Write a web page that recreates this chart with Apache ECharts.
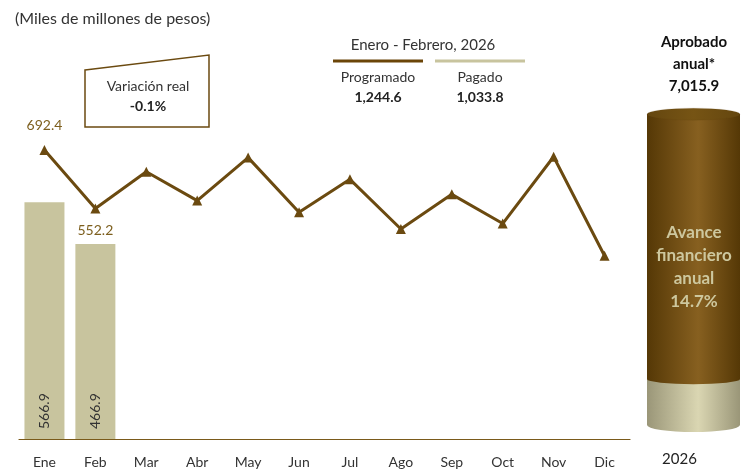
<!DOCTYPE html>
<html>
<head>
<meta charset="utf-8">
<script src="https://cdn.jsdelivr.net/npm/echarts@6/dist/echarts.min.js"></script>
<style>
  html, body { margin: 0; padding: 0; background: #fff; }
  #chart { width: 741px; height: 473px; }
</style>
</head>
<body>
<div id="chart"></div>
<script>
const meses = ["Ene", "Feb", "Mar", "Abr", "May", "Jun", "Jul", "Ago", "Sep", "Oct", "Nov", "Dic"];
const programado = [692.4, 552.2, 640, 571, 674, 543, 622, 503, 586, 516, 676, 439];
const pagado = [566.9, 466.9];
const aprobado = 7015.9;
const anio = "2026";
const variacionReal = "-0.1%";

const fmt = (v) => v.toLocaleString("en-US", { minimumFractionDigits: 1, maximumFractionDigits: 1 });
const totalProg = programado.slice(0, pagado.length).reduce((a, b) => a + b, 0);
const totalPag = pagado.reduce((a, b) => a + b, 0);
const avance = (totalPag / aprobado * 100).toFixed(1) + "%";

const font = "Lato";
const cafe = "#6b4a10";
const beige = "#c8c49e";

const cafeGrad = new echarts.graphic.LinearGradient(0, 0, 1, 0, [
  { offset: 0, color: "#553806" },
  { offset: 0.55, color: "#876020" },
  { offset: 1, color: "#553806" },
]);
const beigeGrad = new echarts.graphic.LinearGradient(0, 0, 1, 0, [
  { offset: 0, color: "#9a9678" },
  { offset: 0.55, color: "#dad6b2" },
  { offset: 1, color: "#9a9678" },
]);

const chart = echarts.init(document.getElementById("chart"));

const option = {
  animation: false,
  textStyle: { fontFamily: font },
  title: {
    text: "(Miles de millones de pesos)",
    left: 10,
    top: 6,
    textStyle: { fontSize: 16, fontWeight: "normal", color: "#333", fontFamily: font },
  },
  grid: [
    { left: 19, right: 111, top: 105, bottom: 34 },
    { left: 647, right: 1, top: 114, bottom: 48 },
  ],
  xAxis: [
    {
      type: "category",
      data: meses,
      axisTick: { show: false },
      axisLine: { lineStyle: { color: "#7a5a1a", width: 1.2 } },
      axisLabel: { color: "#333", fontSize: 14, margin: 16, fontFamily: font },
    },
    {
      type: "category",
      gridIndex: 1,
      data: [anio],
      axisTick: { show: false },
      axisLine: { show: false },
      axisLabel: { color: "#222", fontSize: 15, margin: 27, padding: [0, 28, 0, 0], fontFamily: font },
    },
  ],
  yAxis: [
    { type: "value", min: 0, max: 800, show: false },
    { type: "value", gridIndex: 1, min: 0, max: aprobado, show: false },
  ],
  series: [
    {
      name: "Pagado",
      type: "bar",
      data: pagado,
      barWidth: 40,
      itemStyle: { color: beige },
      label: {
        show: true,
        position: "insideBottom",
        rotate: 90,
        align: "left",
        verticalAlign: "middle",
        distance: 10,
        color: "#333",
        fontSize: 14,
        fontFamily: font,
        formatter: (p) => fmt(p.value),
      },
    },
    {
      name: "Programado",
      type: "line",
      data: programado.map((v, i) => {
        if (i === 0) return { value: v, label: { show: true, position: "top", distance: 12 } };
        if (i === 1) return { value: v, label: { show: true, position: "bottom", distance: 10 } };
        return v;
      }),
      symbol: "triangle",
      symbolSize: 10,
      lineStyle: { color: cafe, width: 3 },
      itemStyle: { color: cafe },
      label: {
        show: false,
        color: "#7d5f1e",
        fontSize: 14,
        fontFamily: font,
        formatter: (p) => fmt(p.value),
      },
      z: 3,
    },
    {
      type: "bar",
      xAxisIndex: 1,
      yAxisIndex: 1,
      stack: "cil",
      data: [totalPag],
      barWidth: 93,
      itemStyle: { color: beigeGrad },
    },
    {
      type: "bar",
      xAxisIndex: 1,
      yAxisIndex: 1,
      stack: "cil",
      data: [aprobado - totalPag],
      barWidth: 93,
      itemStyle: { color: cafeGrad },
    },
    {
      type: "pictorialBar",
      xAxisIndex: 1,
      yAxisIndex: 1,
      data: [1],
      symbol: "circle",
      symbolSize: [93, 14],
      symbolOffset: [0, "50%"],
      itemStyle: { color: beigeGrad },
      z: 1,
    },
    {
      type: "pictorialBar",
      xAxisIndex: 1,
      yAxisIndex: 1,
      data: [totalPag],
      symbol: "circle",
      symbolPosition: "end",
      symbolSize: [93, 10],
      symbolOffset: [0, "-50%"],
      itemStyle: { color: cafeGrad },
      z: 3,
    },
    {
      type: "pictorialBar",
      xAxisIndex: 1,
      yAxisIndex: 1,
      data: [aprobado],
      symbol: "circle",
      symbolPosition: "end",
      symbolSize: [93, 12],
      symbolOffset: [0, "-50%"],
      itemStyle: {
        color: new echarts.graphic.LinearGradient(0, 0, 1, 0, [
          { offset: 0, color: "#64460f" },
          { offset: 0.5, color: "#765414" },
          { offset: 1, color: "#64460f" },
        ]),
        borderColor: "#553a08",
        borderWidth: 1,
      },
      z: 4,
    },
  ],
  graphic: [
    {
      type: "polygon",
      shape: { points: [[85, 70], [209, 55], [209, 127], [85, 127]] },
      style: { fill: "#fff", stroke: cafe, lineWidth: 1.5 },
    },
    {
      type: "text",
      x: 148, y: 86,
      style: { text: "Variación real", fontSize: 14, fill: "#333", align: "center", verticalAlign: "middle", fontFamily: font },
    },
    {
      type: "text",
      x: 148, y: 106,
      style: { text: variacionReal, fontSize: 14, fontWeight: "bold", fill: "#222", align: "center", verticalAlign: "middle", fontFamily: font },
    },
    {
      type: "text",
      x: 423, y: 45,
      style: { text: "Enero - Febrero, " + anio, fontSize: 15, fill: "#333", align: "center", verticalAlign: "middle", fontFamily: font },
    },
    {
      type: "line",
      shape: { x1: 333, y1: 61, x2: 423, y2: 61 },
      style: { stroke: "#6b4508", lineWidth: 3 },
    },
    {
      type: "line",
      shape: { x1: 435, y1: 61, x2: 525, y2: 61 },
      style: { stroke: beige, lineWidth: 3 },
    },
    {
      type: "text",
      x: 378, y: 77,
      style: { text: "Programado", fontSize: 14, fill: "#333", align: "center", verticalAlign: "middle", fontFamily: font },
    },
    {
      type: "text",
      x: 378, y: 97,
      style: { text: fmt(totalProg), fontSize: 14, fontWeight: "bold", fill: "#222", align: "center", verticalAlign: "middle", fontFamily: font },
    },
    {
      type: "text",
      x: 480, y: 77,
      style: { text: "Pagado", fontSize: 14, fill: "#333", align: "center", verticalAlign: "middle", fontFamily: font },
    },
    {
      type: "text",
      x: 480, y: 97,
      style: { text: fmt(totalPag), fontSize: 14, fontWeight: "bold", fill: "#222", align: "center", verticalAlign: "middle", fontFamily: font },
    },
    {
      type: "text",
      x: 694, y: 64,
      style: {
        text: "Aprobado\nanual*\n" + fmt(aprobado),
        fontSize: 15, fontWeight: "bold", lineHeight: 22, fill: "#111",
        align: "center", verticalAlign: "middle", fontFamily: font,
      },
    },
    {
      type: "text",
      x: 694, y: 267,
      z: 100,
      style: {
        text: "Avance\nfinanciero\nanual\n" + avance,
        fontSize: 17, fontWeight: "bold", lineHeight: 23, fill: "#cdc79e",
        align: "center", verticalAlign: "middle", fontFamily: font,
      },
    },
  ],
};

chart.setOption(option);
</script>
</body>
</html>
